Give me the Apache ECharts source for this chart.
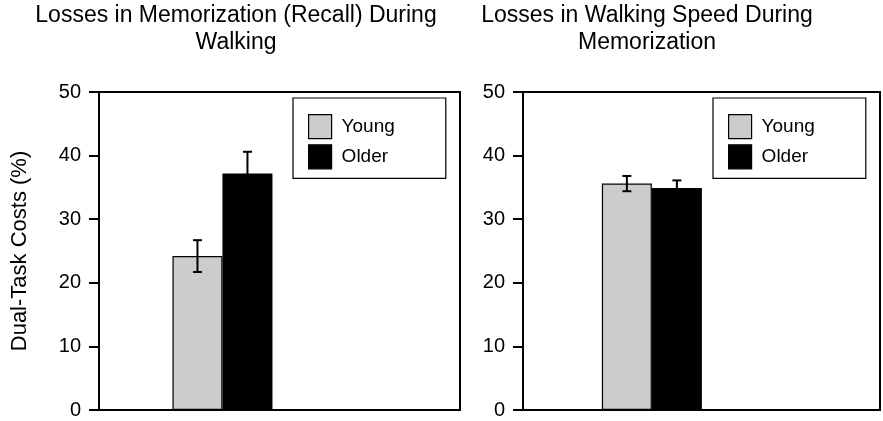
<!DOCTYPE html>
<html>
<head>
<meta charset="utf-8">
<script src="https://cdn.jsdelivr.net/npm/echarts@6/dist/echarts.min.js"></script>
<style>html,body{margin:0;padding:0;background:#fff;}#chart{width:883px;height:421px;}</style>
</head>
<body>
<div id="chart"></div>
<script>
// ---- data ----
const groups = ['Young', 'Older'];
const panelTitles = ['Losses in Memorization (Recall) During\nWalking', 'Losses in Walking Speed During\nMemorization'];
const recallMeans = [24.2, 37.2];
const recallErrors = [2.5, 3.4];
const speedMeans = [35.6, 34.9];
const speedErrors = [1.2, 1.2];
const yTickValues = [0, 10, 20, 30, 40, 50];
const yAxisTitle = 'Dual-Task Costs (%)';

// ---- layout ----
const FONT = '"Liberation Sans", Arial, Helvetica, sans-serif';
const barW = 50;
const groupPos = [0.342, 0.361];
const colors = ['#cccccc', '#000000'];
const grids = [
  {left: 99, top: 92, width: 361, height: 318},
  {left: 523, top: 92, width: 357, height: 318}
];
const titleCenters = [236, 647];
const panels = [
  {means: recallMeans, errs: recallErrors},
  {means: speedMeans, errs: speedErrors}
];

const chart = echarts.init(document.getElementById('chart'), null, {renderer: 'canvas'});

const option = {
  animation: false,
  backgroundColor: '#fff',
  textStyle: {fontFamily: FONT, color: '#000'},
  title: panelTitles.map((t, i) => ({
    text: t, left: titleCenters[i], top: 2, textAlign: 'center', padding: 0,
    textStyle: {fontFamily: FONT, fontSize: 23, fontWeight: 'normal', color: '#000', lineHeight: 27}
  })),
  legend: grids.map((g, i) => ({
    orient: 'vertical',
    left: i === 0 ? 293 : 713,
    top: 98,
    padding: [16, 51, 9, 15],
    itemGap: 5,
    itemWidth: 23,
    itemHeight: 24,
    icon: 'rect',
    borderColor: '#000',
    borderWidth: 1.2,
    data: groups,
    textStyle: {fontFamily: FONT, fontSize: 19, color: '#000', padding: [0, 0, 0, 5]},
    itemStyle: {borderColor: '#000', borderWidth: 1.2}
  })),
  grid: grids.map(g => Object.assign({show: true, borderColor: '#000', borderWidth: 2, containLabel: false}, g)),
  xAxis: grids.map((g, i) => ({
    type: 'value', gridIndex: i, min: 0, max: 1,
    axisLine: {show: false}, axisTick: {show: false}, axisLabel: {show: false}, splitLine: {show: false}
  })),
  yAxis: grids.map((g, i) => ({
    type: 'value', gridIndex: i, min: yTickValues[0], max: yTickValues[yTickValues.length - 1], interval: 10,
    name: i === 0 ? yAxisTitle : '',
    nameLocation: 'middle', nameGap: 68, nameRotate: 90,
    nameTextStyle: {fontFamily: FONT, fontSize: 22, color: '#000'},
    axisLine: {show: true, lineStyle: {color: '#000', width: 2}},
    axisTick: {show: true, inside: false, length: 10, lineStyle: {color: '#000', width: 2}},
    axisLabel: {margin: 18, fontFamily: FONT, fontSize: 20, color: '#000'},
    splitLine: {show: false}
  })),
  series: []
};

panels.forEach((p, pi) => {
  groups.forEach((name, gi) => {
    option.series.push({
      type: 'bar', name: name, xAxisIndex: pi, yAxisIndex: pi,
      barWidth: barW, barGap: '0%',
      itemStyle: {color: colors[gi], borderColor: '#000', borderWidth: gi === 0 ? 1.2 : 0},
      data: [[groupPos[pi], p.means[gi]]]
    });
  });
  option.series.push({
    type: 'custom', name: 'err' + pi, xAxisIndex: pi, yAxisIndex: pi, silent: true, z: 10,
    data: groups.map((n, gi) => [groupPos[pi], p.means[gi] - p.errs[gi], p.means[gi] + p.errs[gi], gi]),
    renderItem: function (params, api) {
      const gi = api.value(3);
      const lo = api.coord([api.value(0), api.value(1)]);
      const hi = api.coord([api.value(0), api.value(2)]);
      const x = lo[0] + (gi === 0 ? -barW / 2 : barW / 2);
      const cap = 4.5;
      const st = {stroke: '#000', lineWidth: 2};
      return {type: 'group', children: [
        {type: 'line', shape: {x1: x, y1: lo[1], x2: x, y2: hi[1]}, style: st},
        {type: 'line', shape: {x1: x - cap, y1: hi[1], x2: x + cap, y2: hi[1]}, style: st},
        {type: 'line', shape: {x1: x - cap, y1: lo[1], x2: x + cap, y2: lo[1]}, style: st}
      ]};
    }
  });
});

chart.setOption(option);
</script>
</body>
</html>
